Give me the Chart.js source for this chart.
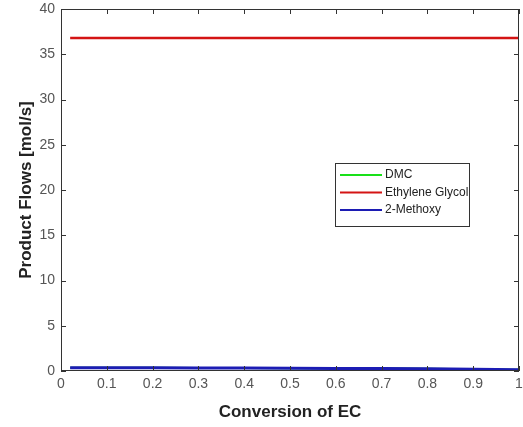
<!DOCTYPE html>
<html>
<head>
<meta charset="utf-8">
<script src="https://cdn.jsdelivr.net/npm/chart.js@4"></script>
<style>
  html, body { margin: 0; padding: 0; background: #fff; }
  #wrap { width: 523px; height: 427px; }
</style>
</head>
<body>
<div id="wrap"><canvas id="flows"></canvas></div>
<script>
// conversion of EC (x) and product flows in mol/s
const conversion = [0.02, 0.1, 0.2, 0.3, 0.4, 0.5, 0.6, 0.7, 0.8, 0.9, 1.0]
const dmc        = [0.37, 0.36, 0.35, 0.34, 0.33, 0.31, 0.29, 0.27, 0.24, 0.2, 0.15]
const glycol     = [36.8, 36.8, 36.8, 36.8, 36.8, 36.8, 36.8, 36.8, 36.8, 36.8, 36.8]
const methoxy    = [0.37, 0.36, 0.35, 0.34, 0.33, 0.31, 0.29, 0.27, 0.24, 0.2, 0.15]

const xTicks = [0, 0.1, 0.2, 0.3, 0.4, 0.5, 0.6, 0.7, 0.8, 0.9, 1]
const yTicks = [0, 5, 10, 15, 20, 25, 30, 35, 40]

Chart.defaults.font.family = '"Liberation Sans", Arial, sans-serif'
Chart.defaults.color = '#555'

const pts = ys => conversion.map((x, i) => ({ x: x, y: ys[i] }))

// box around the plot with inward ticks on all four sides
const frame = {
  id: 'frame',
  afterDatasetsDraw(chart) {
    const { ctx, chartArea: a, scales } = chart
    ctx.save()
    ctx.strokeStyle = '#333'
    ctx.lineWidth = 1
    ctx.strokeRect(a.left + 0.5, a.top + 0.5, a.right - a.left - 1, a.bottom - a.top - 1)
    ctx.beginPath()
    xTicks.forEach(v => {
      const px = Math.round(scales.x.getPixelForValue(v)) + 0.5
      ctx.moveTo(px, a.bottom); ctx.lineTo(px, a.bottom - 5)
      ctx.moveTo(px, a.top); ctx.lineTo(px, a.top + 5)
    })
    yTicks.forEach(v => {
      const py = Math.round(scales.y.getPixelForValue(v)) + 0.5
      ctx.moveTo(a.left, py); ctx.lineTo(a.left + 5, py)
      ctx.moveTo(a.right, py); ctx.lineTo(a.right - 5, py)
    })
    ctx.stroke()
    ctx.restore()
  }
}

// legend drawn inside the plot, right of centre
const boxLegend = {
  id: 'boxLegend',
  afterDraw(chart) {
    const { ctx } = chart
    const x0 = 335, y0 = 163, w = 134, h = 63, row = 17.5
    ctx.save()
    ctx.fillStyle = '#fff'
    ctx.fillRect(x0, y0, w, h)
    ctx.strokeStyle = '#333'
    ctx.lineWidth = 1
    ctx.strokeRect(x0 + 0.5, y0 + 0.5, w, h)
    ctx.font = '12px "Liberation Sans", Arial, sans-serif'
    ctx.textBaseline = 'middle'
    chart.data.datasets.forEach((ds, i) => {
      const y = y0 + 12 + i * row
      ctx.strokeStyle = ds.borderColor
      ctx.lineWidth = 2
      ctx.beginPath()
      ctx.moveTo(x0 + 5, y); ctx.lineTo(x0 + 47, y)
      ctx.stroke()
      ctx.fillStyle = '#222'
      ctx.fillText(ds.label, x0 + 50, y)
    })
    ctx.restore()
  }
}

new Chart(document.getElementById('flows'), {
  type: 'line',
  data: {
    datasets: [{
      label: 'DMC',
      data: pts(dmc),
      borderColor: '#19e019',
      borderWidth: 2,
      pointRadius: 0,
      order: 3
    }, {
      label: 'Ethylene Glycol',
      data: pts(glycol),
      borderColor: '#d41414',
      borderWidth: 2.5,
      pointRadius: 0,
      order: 2
    }, {
      label: '2-Methoxy',
      data: pts(methoxy),
      borderColor: '#1c1cb4',
      borderWidth: 3,
      pointRadius: 0,
      order: 1
    }]
  },
  options: {
    responsive: true,
    maintainAspectRatio: false,
    animation: false,
    layout: { padding: { top: 9, right: 4, left: 12, bottom: 0 } },
    plugins: {
      legend: { display: false },
      tooltip: { enabled: false }
    },
    scales: {
      x: {
        type: 'linear',
        min: 0,
        max: 1,
        afterBuildTicks: s => { s.ticks = xTicks.map(v => ({ value: v })) },
        afterFit: s => { s.height = 56; s.paddingLeft = 0; s.paddingRight = 0 },
        grid: { display: false, drawTicks: false },
        border: { display: false },
        ticks: {
          font: { size: 14 },
          padding: 5,
          maxRotation: 0,
          callback: v => String(+v.toFixed(1))
        },
        title: {
          display: true,
          text: 'Conversion of EC',
          color: '#222',
          font: { size: 17, weight: 'bold' },
          padding: { top: 6 }
        }
      },
      y: {
        min: 0,
        max: 40,
        afterBuildTicks: s => { s.ticks = yTicks.map(v => ({ value: v })) },
        afterFit: s => { s.width = 49; s.paddingTop = 0; s.paddingBottom = 0 },
        grid: { display: false, drawTicks: false },
        border: { display: false },
        ticks: { font: { size: 14 }, padding: 6 },
        title: {
          display: true,
          text: 'Product Flows [mol/s]',
          color: '#222',
          font: { size: 17, weight: 'bold' },
          padding: { bottom: 2 }
        }
      }
    }
  },
  plugins: [frame, boxLegend]
})
</script>
</body>
</html>
